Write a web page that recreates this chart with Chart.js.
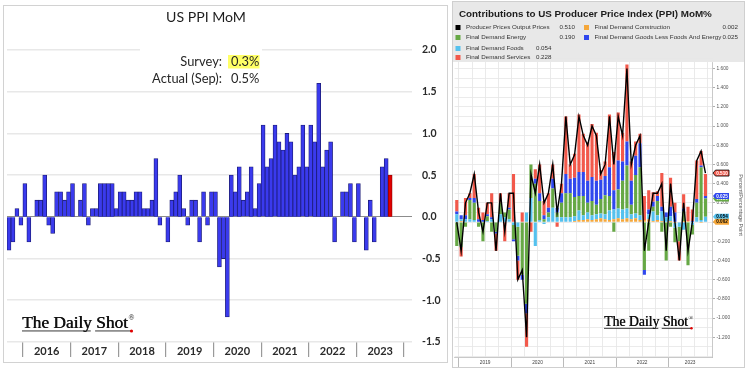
<!DOCTYPE html>
<html><head><meta charset="utf-8">
<script src="https://cdn.jsdelivr.net/npm/chart.js@4.4.0/dist/chart.umd.min.js"></script>
<style>
html,body{margin:0;padding:0;background:#fff;width:745px;height:368px;overflow:hidden;}
#lp{position:absolute;left:3px;top:5px;width:445px;height:358px;}
#rp{position:absolute;left:452px;top:1px;width:293px;height:367px;}
canvas{display:block}
</style></head><body>
<div id="lp"><canvas id="cl" width="445" height="358"></canvas></div>
<div id="rp"><canvas id="cr" width="293" height="367"></canvas></div>
<script>
// ================= DATA =================
// Left chart: US PPI MoM (%), Sep 2015 .. Sep 2023
const ppiMoM = [
  -0.4,-0.3,0.1,-0.1,                                   // Sep-Dec 2015
  0.4,-0.3,0.0,0.2,0.2,0.5,-0.1,-0.2,0.3,0.3,0.2,0.3,   // 2016
  0.4,0.0,0.2,0.4,-0.1,0.1,0.1,0.4,0.4,0.4,0.4,0.1,     // 2017
  0.3,0.3,0.2,0.2,0.3,0.3,0.1,0.1,0.2,0.7,-0.1,0.0,     // 2018
  -0.3,0.2,0.3,0.5,0.1,-0.1,0.2,0.2,-0.3,0.3,-0.1,0.3,  // 2019
  0.3,-0.6,-0.5,-1.2,0.5,0.3,0.6,0.2,0.3,0.6,0.1,0.4,   // 2020
  1.1,0.6,0.7,1.1,0.9,0.8,1.0,0.9,0.5,0.6,1.1,0.6,      // 2021
  1.1,0.9,1.6,0.6,0.8,0.9,-0.3,0.0,0.3,0.3,0.4,-0.3,    // 2022
  0.4,0.0,-0.4,0.2,-0.3,0.0,0.6,0.7,0.5                 // 2023 (Jan-Sep)
];
const leftYearLabels = ['2016','2017','2018','2019','2020','2021','2022','2023'];
const leftYTicks = [-1.5,-1.0,-0.5,0.0,0.5,1.0,1.5,2.0];
const leftTitle = 'US PPI MoM';
const surveyText = ['Survey:', '0.3%'];
const actualText = ['Actual (Sep):', '0.5%'];

// Right chart: contributions (pp), Dec 2018 .. Sep 2023
const rTotal = [0.0,
  -0.3,0.2,0.3,0.5,0.1,-0.1,0.2,0.2,-0.3,0.3,-0.1,0.3,
  0.3,-0.6,-0.5,-1.2,0.5,0.3,0.6,0.2,0.3,0.6,0.1,0.4,
  1.1,0.6,0.7,1.1,0.9,0.8,1.0,0.9,0.5,0.6,1.1,0.6,
  1.1,0.9,1.6,0.6,0.8,0.9,-0.3,0.0,0.3,0.3,0.4,-0.3,
  0.4,0.0,-0.4,0.2,-0.3,0.0,0.64,0.74,0.51];
const rConstruction = [0.00,
  0.01,0.00,0.00,0.00,0.00,0.00,0.00,0.00,0.00,0.00,0.00,0.00,
  0.00,0.00,0.00,0.00,0.00,0.00,0.00,0.00,0.00,0.00,0.00,0.00,
  0.00,0.00,0.01,0.02,0.02,0.03,0.02,0.03,0.04,0.03,0.02,0.03,
  0.04,0.03,0.04,0.03,0.04,0.02,0.02,0.03,0.01,0.02,0.01,0.00,
  0.01,-0.01,0.00,0.01,0.01,0.00,0.00,-0.01,0.002];
const rFoods = [0.08,
  0.02,0.03,0.03,0.02,0.00,0.00,0.01,0.03,0.00,0.08,0.05,0.03,
  -0.03,-0.05,0.00,0.10,0.25,-0.25,0.02,-0.02,0.05,0.15,0.05,0.05,
  0.05,0.05,0.05,0.10,0.05,0.07,0.05,0.05,0.05,0.05,0.10,0.10,
  0.10,0.10,0.10,0.05,0.05,0.05,0.00,0.05,0.10,0.05,0.10,0.05,
  0.05,-0.05,-0.05,-0.08,0.00,-0.03,0.05,0.02,0.054];
const rEnergy = [-0.25,
  -0.26,-0.05,0.20,0.18,-0.05,-0.20,0.05,-0.10,-0.10,0.12,0.05,0.10,
  -0.15,-0.30,-0.55,-0.85,0.35,0.40,0.20,0.03,0.05,0.20,0.05,0.15,
  0.25,0.25,0.20,0.15,0.20,0.10,0.15,0.10,0.15,0.20,0.15,-0.10,
  0.20,0.30,0.45,0.10,0.40,0.50,-0.50,-0.30,0.05,0.15,-0.10,-0.40,
  -0.05,-0.15,-0.15,0.10,-0.45,-0.10,0.15,0.55,0.19];
const rCoreGoods = [0.03,
  0.04,0.04,0.02,0.05,0.03,0.02,0.02,0.02,-0.02,0.00,0.00,0.02,
  -0.02,-0.05,-0.05,-0.10,0.00,0.05,0.08,0.04,0.05,0.10,0.05,0.10,
  0.20,0.15,0.20,0.25,0.25,0.23,0.25,0.25,0.20,0.20,0.30,0.20,
  0.30,0.20,0.25,0.25,0.20,0.25,-0.05,0.05,0.05,0.05,0.05,0.05,
  0.10,0.10,0.00,0.03,0.00,0.01,0.04,0.02,0.025];
const rServices = [0.12,
  -0.10,0.18,0.05,0.25,0.12,0.08,0.12,0.25,-0.18,0.10,-0.20,0.15,
  0.50,-0.20,0.10,-0.35,-0.10,0.10,0.30,0.15,0.15,0.15,-0.05,0.10,
  0.60,0.15,0.25,0.60,0.40,0.40,0.55,0.50,0.10,0.15,0.55,0.40,
  0.50,0.30,0.80,0.20,0.15,0.10,0.25,0.20,0.10,0.05,0.35,0.00,
  0.30,0.10,-0.20,0.15,0.15,0.12,0.40,0.15,0.228];
const rSeriesNames = ['Producer Prices Output Prices','Final Demand Construction','Final Demand Energy',
  'Final Demand Goods Less Foods And Energy','Final Demand Foods','Final Demand Services'];
const rLegendValues = ['0.510','0.002','0.190','0.025','0.054','0.228'];
const rYearLabels = ['2019','2020','2021','2022','2023'];
const rYearLabelMonths = ['Jun 2019','Jun 2020','Jun 2021','Jun 2022','May 2023'];
const rYTickLabels = [-1.2,-1.0,-0.8,-0.6,-0.4,-0.2,0.0,0.2,0.4,0.6,0.8,1.0,1.2,1.4,1.6];
const rTitle = 'Contributions to US Producer Price Index (PPI) MoM%';
const rAxisTitle = 'Percent/Percentage Point';
const logoText = 'The Daily Shot';

// ============ CATEGORIES ============
const MN = ['Jan','Feb','Mar','Apr','May','Jun','Jul','Aug','Sep','Oct','Nov','Dec'];
function monthRange(y0, m0, n){ const out=[]; for(let i=0;i<n;i++){const t=m0+i; out.push(MN[t%12]+' '+(y0+Math.floor(t/12)));} return out; }
const ppiCategories = monthRange(2015, 8, 102);   // Sep 2015 .. Feb 2024 (axis room)
const rCategories = monthRange(2018, 11, 59);     // Dec 2018 .. Oct 2023

function fitSize(ctx, text, family, weight, targetW){
  ctx.font = weight + ' 40px ' + family;
  return 40 * targetW / ctx.measureText(text).width;
}
const isJan = (cats, i) => i < cats.length && cats[i].startsWith('Jan');
const isJun = (cats, i) => i < cats.length && cats[i].startsWith('Jun');

// ============ LEFT CHART ============
const leftDecor = {
  id: 'leftDecor',
  beforeDatasetsDraw(chart){
    const ctx = chart.ctx;
    ctx.save(); ctx.fillStyle = '#fff'; ctx.fillRect(137, 40, 122, 44); ctx.restore();
  },
  afterDraw(chart){
    const ctx = chart.ctx;
    ctx.save();
    ctx.strokeStyle = '#d2d2d2'; ctx.lineWidth = 1;
    ctx.strokeRect(0.5, 0.5, chart.width - 1, chart.height - 1);
    const fam = 'Lato, "Open Sans", sans-serif';
    let s = fitSize(ctx, leftTitle, fam, 'normal', 80);
    ctx.font = 'normal ' + s + 'px ' + fam; ctx.fillStyle = '#1e1e1e';
    ctx.textAlign = 'center'; ctx.textBaseline = 'middle';
    ctx.fillText(leftTitle, 203, 12.5);
    s = fitSize(ctx, actualText[0], fam, 'normal', 70);
    ctx.font = 'normal ' + s + 'px ' + fam;
    ctx.fillStyle = '#ffff66'; ctx.fillRect(225, 50, 31.5, 13.5);
    ctx.fillStyle = '#262626';
    ctx.textAlign = 'right';
    ctx.fillText(surveyText[0], 219, 56.5);
    ctx.fillText(actualText[0], 219, 73.5);
    ctx.textAlign = 'left';
    ctx.fillText(surveyText[1], 228, 56.5);
    ctx.fillText(actualText[1], 228, 73.5);
    drawLogo(ctx, 19, 323, 106);
    ctx.restore();
  }
};

function drawLogo(ctx, x, base, w){
  const fam = '"Liberation Serif", "DejaVu Serif", serif';
  const s = fitSize(ctx, logoText, fam, 'normal', w);
  ctx.font = 'normal ' + s + 'px ' + fam;
  ctx.fillStyle = '#111'; ctx.textAlign = 'left'; ctx.textBaseline = 'alphabetic';
  ctx.fillText(logoText, x, base);
  ctx.fillText(logoText, x + 0.4, base);
  const wThe = ctx.measureText('The Daily').width;
  const wShotStart = ctx.measureText('The Daily ').width;
  ctx.font = 'normal ' + (s*0.45) + 'px ' + fam;
  ctx.fillText('\u00AE', x + w + 0.5, base - s*0.45);
  ctx.strokeStyle = '#222'; ctx.lineWidth = 0.9;
  const uy = base + s*0.17;
  ctx.beginPath(); ctx.moveTo(x, uy); ctx.lineTo(x + wThe - 1, uy);
  ctx.moveTo(x + wShotStart - 1, uy); ctx.lineTo(x + w + 3, uy); ctx.stroke();
  ctx.fillStyle = '#e00000'; ctx.beginPath(); ctx.arc(x + w + 3.5, uy, s*0.09, 0, Math.PI*2); ctx.fill();
}

const lBarW = 405 / ppiCategories.length;
new Chart(document.getElementById('cl'), {
  type: 'bar',
  data: {
    labels: ppiCategories,
    datasets: [{
      label: 'US PPI MoM',
      data: ppiMoM,
      backgroundColor: ppiMoM.map((v,i) => i === ppiMoM.length-1 ? '#e00000' : '#3a3aee'),
      borderColor: ppiMoM.map((v,i) => i === ppiMoM.length-1 ? '#8a0000' : '#1c1c78'),
      borderWidth: 0.8,
      categoryPercentage: 1, barPercentage: 1
    }]
  },
  options: {
    responsive: false, animation: false, devicePixelRatio: 1,
    layout: { padding: { left: 4, top: 45, right: 0, bottom: 0 } },
    plugins: { legend: { display: false }, tooltip: { enabled: false } },
    scales: {
      x: { type: 'category', display: true, grid: { display: false, drawTicks: false },
           ticks: { display: false }, border: { display: false }, afterFit: s => { s.height = 0; } },
      xYear: { axis: 'x', type: 'category', position: 'bottom',
        afterFit: s => { s.height = 21; },
        grid: { offset: true, drawOnChartArea: false, drawTicks: true, tickLength: 15, lineWidth: 1.2,
                color: c => isJan(ppiCategories, c.index) ? '#9a9a9a' : 'rgba(0,0,0,0)' },
        border: { display: false },
        ticks: { autoSkip: false, maxRotation: 0, padding: -12, labelOffset: lBarW/2, color: '#2a2a2a',
                 font: { family: 'Lato', weight: 'bold', size: 11 },
                 callback: (v, i) => {
                   const k = leftYearLabels.indexOf(ppiCategories[i].slice(4));
                   return (isJun(ppiCategories, i) && k >= 0) ? leftYearLabels[k] : '';
                 } } },
      y: { position: 'right', min: -1.5, max: 2.0,
        afterBuildTicks: s => { s.ticks = leftYTicks.map(v => ({ value: v })); },
        afterFit: s => { s.width = 36; },
        grid: { drawTicks: false, color: c => c.tick.value === 0 ? '#8c8c8c' : '#e8e8e8',
                lineWidth: c => c.tick.value === 0 ? 1 : 1.6 },
        border: { display: false },
        ticks: { padding: 10, color: '#2a2a2a', font: { family: 'Lato', weight: 'bold', size: 10.5 },
                 callback: v => v.toFixed(1) } }
    }
  },
  plugins: [leftDecor]
});

// ============ RIGHT CHART ============
const C_CONS = '#f5a73a', C_FOOD = '#55c1ee', C_ENER = '#66a845', C_CORE = '#2f47ee', C_SERV = '#f2594b';
const rMinor = rYTickLabels.map(v => +(v + 0.1).toFixed(1)).concat([-1.3, -1.4]);
const rAllTicks = rYTickLabels.concat(rMinor).sort((a,b)=>a-b);
const rBarW = 257.4 / rCategories.length;

function tag(ctx, x, y, w, h, fill, stroke, text, tc){
  ctx.beginPath();
  ctx.moveTo(x, y); ctx.lineTo(x + 2.5, y - h/2); ctx.lineTo(x + w, y - h/2);
  ctx.lineTo(x + w, y + h/2); ctx.lineTo(x + 2.5, y + h/2); ctx.closePath();
  ctx.fillStyle = fill; ctx.fill();
  if (stroke){ ctx.strokeStyle = stroke; ctx.lineWidth = 0.8; ctx.stroke(); }
  ctx.fillStyle = tc; ctx.font = 'bold 4.6px "Liberation Sans", sans-serif';
  ctx.textAlign = 'center'; ctx.textBaseline = 'middle';
  ctx.fillText(text, x + w/2 + 1, y + 0.3);
}

const rightDecor = {
  id: 'rightDecor',
  beforeDraw(chart){
    const ctx = chart.ctx;
    ctx.save();
    ctx.fillStyle = '#fff'; ctx.fillRect(0, 0, chart.width, chart.height);
    ctx.fillStyle = '#e8e8e8'; ctx.fillRect(0, 0, chart.width, 61);
    ctx.restore();
  },
  afterDraw(chart){
    const ctx = chart.ctx, a = chart.chartArea, y = chart.scales.y;
    ctx.save();
    const fam = '"Liberation Sans", Arial, sans-serif';
    let s = fitSize(ctx, rTitle, fam, 'bold', 253);
    ctx.font = 'bold ' + s + 'px ' + fam; ctx.fillStyle = '#1c1c1c';
    ctx.textAlign = 'left'; ctx.textBaseline = 'middle';
    ctx.fillText(rTitle, 7, 13);
    s = fitSize(ctx, rSeriesNames[3], fam, 'normal', 127);
    const items = [
      { i: 0, x: 3.5, y: 26.5, vr: 123 },
      { i: 1, x: 132, y: 26.5, vr: 286 },
      { i: 2, x: 3.5, y: 36.5, vr: 123 },
      { i: 3, x: 132, y: 36.5, vr: 286 },
      { i: 4, x: 3.5, y: 47.5, vr: 99.5 },
      { i: 5, x: 3.5, y: 56.5, vr: 99.5 }
    ];
    const colorOf = [ '#000', C_CONS, C_ENER, C_CORE, C_FOOD, C_SERV ];
    items.forEach(it => {
      ctx.fillStyle = colorOf[it.i]; ctx.fillRect(it.x, it.y - 2.5, 5, 5);
      ctx.fillStyle = '#333'; ctx.font = 'normal ' + s + 'px ' + fam;
      ctx.textAlign = 'left'; ctx.fillText(rSeriesNames[it.i], it.x + 10.5, it.y);
      ctx.textAlign = 'right'; ctx.fillText(rLegendValues[it.i], it.vr, it.y);
    });
    const n = rTotal.length - 1;
    const topCons = rConstruction[n], topFood = topCons + rFoods[n];
    const topEner = topFood + rEnergy[n], topCore = topEner + rCoreGoods[n];
    const tx = a.right + 1;
    tag(ctx, tx, y.getPixelForValue(topEner), 16, 6, C_ENER, null, rLegendValues[2], '#fff');
    tag(ctx, tx, y.getPixelForValue(topCore), 16, 6, C_CORE, null, rLegendValues[3], '#fff');
    tag(ctx, tx, y.getPixelForValue(topFood), 16, 6, C_FOOD, null, rLegendValues[4], '#000');
    tag(ctx, tx, y.getPixelForValue(topCons), 16, 6, C_CONS, null, rLegendValues[1], '#000');
    tag(ctx, tx, y.getPixelForValue(rTotal[n]), 16, 6, C_SERV, '#000', rLegendValues[0], '#fff');
    ctx.save();
    ctx.translate(288, 204); ctx.rotate(Math.PI/2);
    ctx.font = 'normal 5.4px ' + fam; ctx.fillStyle = '#555';
    ctx.textAlign = 'center'; ctx.textBaseline = 'middle';
    ctx.fillText(rAxisTitle, 0, 0);
    ctx.restore();
    drawLogo(ctx, 152, 325, 84);
    ctx.strokeStyle = '#cfcfcf'; ctx.lineWidth = 1;
    ctx.strokeRect(0.5, 0.5, chart.width - 1, chart.height - 1);
    ctx.restore();
  }
};

new Chart(document.getElementById('cr'), {
  type: 'bar',
  data: {
    labels: rCategories,
    datasets: [
      { type: 'line', label: rSeriesNames[0], data: rTotal, borderColor: '#000', borderWidth: 1.4,
        pointRadius: 0, tension: 0, order: 0, stack: 'total' },
      { label: rSeriesNames[1], data: rConstruction, backgroundColor: C_CONS, order: 1, stack: 'c' },
      { label: rSeriesNames[4], data: rFoods, backgroundColor: C_FOOD, order: 1, stack: 'c' },
      { label: rSeriesNames[2], data: rEnergy, backgroundColor: C_ENER, order: 1, stack: 'c' },
      { label: rSeriesNames[3], data: rCoreGoods, backgroundColor: C_CORE, order: 1, stack: 'c' },
      { label: rSeriesNames[5], data: rServices, backgroundColor: C_SERV, order: 1, stack: 'c' }
    ]
  },
  options: {
    responsive: false, animation: false, devicePixelRatio: 1,
    layout: { padding: { left: 2.6, top: 61, right: 0, bottom: 0 } },
    plugins: { legend: { display: false }, tooltip: { enabled: false } },
    datasets: { bar: { categoryPercentage: 1, barPercentage: 0.72 } },
    scales: {
      x: { type: 'category', stacked: true, display: true,
           grid: { offset: true, drawTicks: false, lineWidth: 0.8,
                   color: c => (c.index % 3 === 1) ? '#e4e4e4' : 'rgba(0,0,0,0)' },
           ticks: { display: false }, border: { display: false }, afterFit: s => { s.height = 0; } },
      xYear: { axis: 'x', type: 'category', position: 'bottom',
        afterFit: s => { s.height = 11; },
        grid: { offset: true, drawOnChartArea: false, drawTicks: true, tickLength: 11, lineWidth: 0.8,
                color: c => (isJan(rCategories, c.index) || c.index === rCategories.length) ? '#aaaaaa' : 'rgba(0,0,0,0)' },
        border: { display: true, color: '#bbbbbb', width: 0.8 },
        ticks: { autoSkip: false, maxRotation: 0, padding: -8, labelOffset: rBarW/2, color: '#444',
                 font: { family: '"Liberation Sans"', size: 4.8 },
                 callback: (v, i) => {
                   const k = rYearLabelMonths.indexOf(rCategories[i]);
                   return k >= 0 ? rYearLabels[k] : '';
                 } } },
      y: { position: 'right', stacked: true, min: -1.406, max: 1.667,
        afterBuildTicks: s => { s.ticks = rAllTicks.map(v => ({ value: v })); },
        afterFit: s => { s.width = 33; },
        grid: { drawTicks: true, tickLength: 3, color: '#e6e6e6', lineWidth: 0.8,
                tickColor: c => rYTickLabels.includes(c.tick.value) ? '#999' : 'rgba(0,0,0,0)' },
        border: { display: true, color: '#bbbbbb', width: 0.8 },
        ticks: { padding: 1.5, color: '#555', font: { family: '"Liberation Sans"', size: 4.8 },
                 callback: v => rYTickLabels.includes(v) && v !== 0 ? v.toFixed(3) : '' } }
    }
  },
  plugins: [rightDecor]
});
</script>
</body></html>
